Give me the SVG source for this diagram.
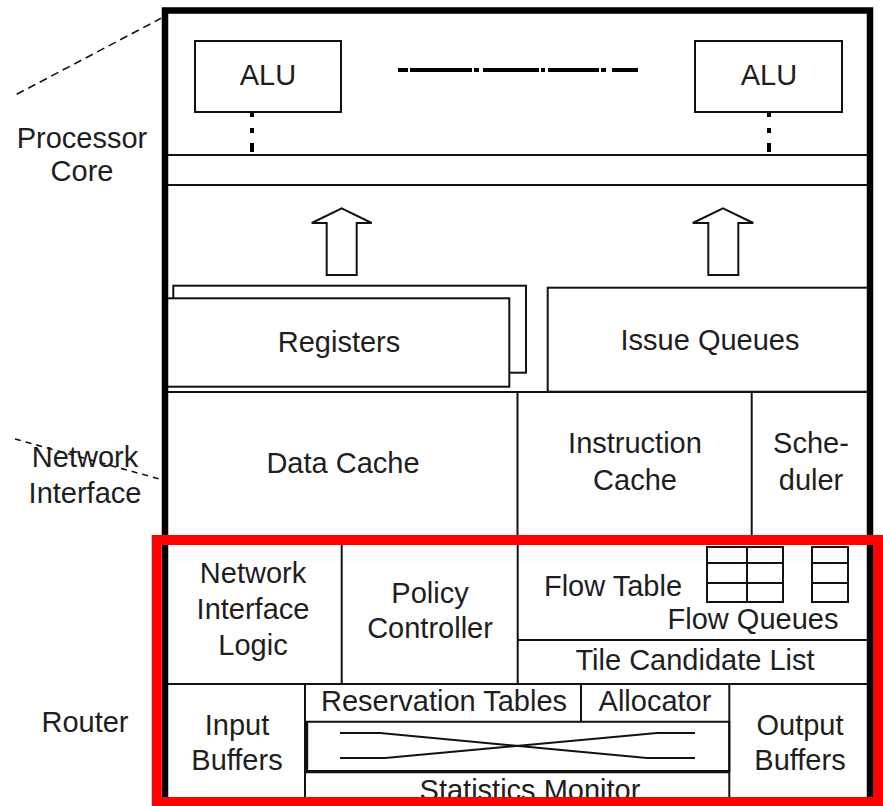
<svg xmlns="http://www.w3.org/2000/svg" width="883" height="806" viewBox="0 0 883 806">
  <style>
    text { font-family: "Liberation Sans", Arial, sans-serif; font-size: 29px; fill: #1e1e1e; text-anchor: middle; }
    .ln { stroke: #111; stroke-width: 2; fill: none; }
    .box { stroke: #111; stroke-width: 2; fill: #fff; }
    .lead { stroke: #111; stroke-width: 1.6; fill: none; }
    .dots { stroke: #000; stroke-width: 4; fill: none; }
  </style>
  <rect x="0" y="0" width="883" height="806" fill="#fff"/>

  <!-- side labels -->
  <g id="label-core">
    <text x="82" y="148">Processor</text>
    <text x="82" y="181">Core</text>
  </g>
  <g id="label-ni">
    <text x="85" y="467">Network</text>
    <text x="85" y="503">Interface</text>
  </g>
  <g id="label-router">
    <text x="85" y="732">Router</text>
  </g>

  <!-- processor core -->
  <g id="alu-left">
    <rect class="box" x="195" y="41" width="146" height="71"/>
    <text x="268" y="85">ALU</text>
  </g>
  <g id="alu-right">
    <rect class="box" x="695" y="41" width="147" height="71"/>
    <text x="769" y="85">ALU</text>
  </g>
  <g id="alu-ellipsis">
    <path class="dots" d="M398 70h10M410 70h62M474 70h5M483 70h56M541 70h4M548 70h51M601 70h5M612 70h26"/>
  </g>
  <g id="bus">
    <path class="ln" d="M168 155H867M168 185H867"/>
  </g>
  <g id="registers">
    <rect class="box" x="173.3" y="285.7" width="352.7" height="87"/>
    <rect class="box" x="165" y="298.3" width="344.3" height="88.4"/>
    <text x="339" y="352">Registers</text>
  </g>
  <g id="issue-queues">
    <rect class="box" x="547.7" y="287.7" width="322" height="104"/>
    <text x="710" y="350">Issue Queues</text>
  </g>

  <!-- memory / network interface row -->
  <g id="data-cache">
    <path class="ln" d="M168 392H867"/>
    <text x="343" y="473">Data Cache</text>
  </g>
  <g id="instruction-cache">
    <path class="ln" d="M517.5 392V540"/>
    <text x="635" y="453">Instruction</text>
    <text x="635" y="490">Cache</text>
  </g>
  <g id="scheduler">
    <path class="ln" d="M751.7 392V540"/>
    <text x="811" y="453">Sche-</text>
    <text x="811" y="490">duler</text>
  </g>

  <!-- router -->
  <g id="network-interface-logic">
    <path class="ln" d="M341.7 545V684M168 684H867"/>
    <text x="253" y="583">Network</text>
    <text x="253" y="619">Interface</text>
    <text x="253" y="655">Logic</text>
  </g>
  <g id="policy-controller">
    <path class="ln" d="M517.7 545V684"/>
    <text x="430" y="603">Policy</text>
    <text x="430" y="638">Controller</text>
  </g>
  <g id="flow-table">
    <path class="ln" d="M707 547H783V602H707ZM747 547V602M707 563H783M707 583H783"/>
    <path class="ln" d="M812 547H848V602H812ZM812 563H848M812 583H848"/>
    <text x="613" y="596">Flow Table</text>
    <text x="753" y="629">Flow Queues</text>
  </g>
  <g id="tile-candidate-list">
    <path class="ln" d="M517.7 640H867"/>
    <text x="695" y="670">Tile Candidate List</text>
  </g>
  <g id="input-buffers">
    <path class="ln" d="M305 684V798"/>
    <text x="237" y="735">Input</text>
    <text x="237" y="770">Buffers</text>
  </g>
  <g id="reservation-tables">
    <path class="ln" d="M305 721.7H729.3M581 684V721.7"/>
    <text x="444" y="711">Reservation Tables</text>
  </g>
  <g id="allocator">
    <text x="655" y="711">Allocator</text>
  </g>
  <g id="crossbar">
    <path class="ln" d="M729.3 721.7V771.7"/>
    <path stroke="#111" stroke-width="3.2" fill="none" d="M306.6 721.7V771.7H729.3"/>
  </g>
  <g id="statistics-monitor">
    <text x="530" y="800">Statistics Monitor</text>
  </g>
  <g id="output-buffers">
    <path class="ln" d="M729.3 684V798"/>
    <text x="800" y="735">Output</text>
    <text x="800" y="770">Buffers</text>
  </g>

  <!-- connectors and arrows -->
  <g id="connectors">
    <path class="dots" d="M252 113V117M252 128V133M252 143V152"/>
    <path class="dots" d="M769 113V117M769 128V133M769 143V152"/>
    <polygon class="box" points="341.7,208.3 371.7,223 356.7,223 356.7,275 326.7,275 326.7,223 311.7,223"/>
    <polygon class="box" points="723,208.3 753.3,223 738.3,223 738.3,275 708.3,275 708.3,223 692.7,223"/>
    <path class="ln" d="M340 733H380L647 758H695M340 758H385L657 733H695"/>
    <path class="lead" stroke-dasharray="8 5" d="M16.7 94.3L161 18.3"/>
    <path class="lead" stroke-dasharray="6 5" d="M15 439L163 480"/>
  </g>

  <!-- tile frame and router outline -->
  <g id="tile-frame">
    <rect x="165" y="10.5" width="705" height="790" fill="none" stroke="#000" stroke-width="6.5"/>
  </g>
  <g id="router-outline">
    <rect x="156.7" y="540" width="721.3" height="262" fill="none" stroke="#ff0000" stroke-width="10"/>
  </g>
</svg>
